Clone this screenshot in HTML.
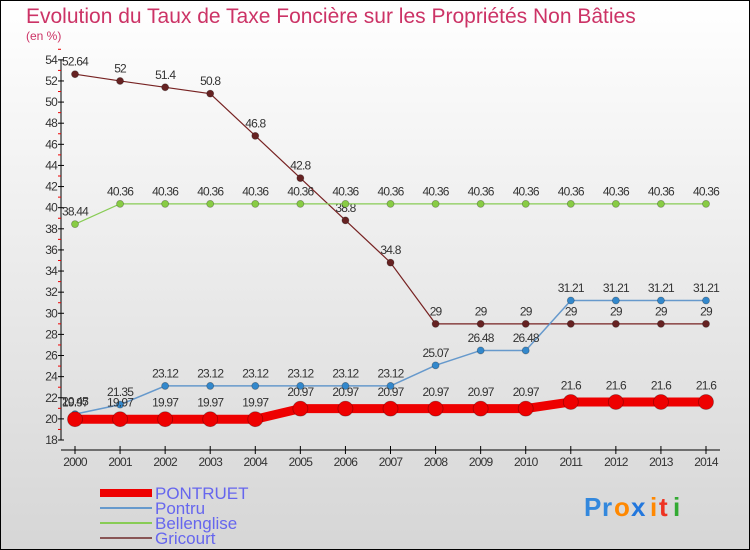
<!DOCTYPE html>
<html><head><meta charset="utf-8"><style>
body{margin:0}
#c{width:750px;height:550px;position:relative;overflow:hidden;font-family:"Liberation Sans",sans-serif}
svg text{font-family:"Liberation Sans",sans-serif}
</style></head><body>
<div id="c">
<svg id="s" width="750" height="550" viewBox="0 0 750 550">
<defs><linearGradient id="bg" x1="0" y1="0" x2="0" y2="1"><stop offset="0" stop-color="#ffffff"/><stop offset="1" stop-color="#d6d6d6"/></linearGradient></defs>
<rect x="0.5" y="0.5" width="749" height="549" fill="url(#bg)" stroke="#000"/>
<text x="26" y="23" font-size="21" fill="#cc3366">Evolution du Taux de Taxe Foncière sur les Propriétés Non Bâties</text>
<text x="26" y="40" font-size="12" fill="#cc3366">(en %)</text>
<g id="axes"></g><g id="series"></g><g id="legend"></g>
<g font-size="26" font-weight="bold">
<text x="584" y="516" fill="#3388dd">P</text><text x="602" y="516" fill="#3388dd">r</text><text x="614" y="516" fill="#ff8800">o</text><text x="631" y="516" fill="#2277dd">x</text><text x="650" y="516" fill="#ff8800">i</text><text x="659" y="516" fill="#ee3322">t</text><text x="673" y="516" fill="#33aa33">i</text>
</g>
</svg></div>
<script>
const years=[2000,2001,2002,2003,2004,2005,2006,2007,2008,2009,2010,2011,2012,2013,2014];
const yTicks=[18,20,22,24,26,28,30,32,34,36,38,40,42,44,46,48,50,52,54];
const pontruet=[19.97,19.97,19.97,19.97,19.97,20.97,20.97,20.97,20.97,20.97,20.97,21.6,21.6,21.6,21.6];
const pontru=[20.45,21.35,23.12,23.12,23.12,23.12,23.12,23.12,25.07,26.48,26.48,31.21,31.21,31.21,31.21];
const bellenglise=[38.44,40.36,40.36,40.36,40.36,40.36,40.36,40.36,40.36,40.36,40.36,40.36,40.36,40.36,40.36];
const gricourt=[52.64,52,51.4,50.8,46.8,42.8,38.8,34.8,29,29,29,29,29,29,29];
const NS='http://www.w3.org/2000/svg';
function X(i){return 75+i*(706-75)/(years.length-1);}
function Y(v){return 440-(v-18)*10.56;}
function mk(t,a,p){const e=document.createElementNS(NS,t);for(const k in a)e.setAttribute(k,a[k]);p.appendChild(e);return e;}
const ax=document.getElementById('axes');
let yl=mk('line',{x1:61,y1:Y(54),x2:61,y2:Y(18),stroke:'#000'},ax);


let xl=mk('line',{x1:61,y1:450,x2:720,y2:450,stroke:'#000'},ax);


yTicks.forEach(v=>{
 mk('line',{x1:58,y1:Y(v),x2:64,y2:Y(v),stroke:'#000'},ax);
 mk('line',{x1:58,y1:Y(v+1),x2:61,y2:Y(v+1),stroke:'#e00'},ax);
 const t=mk('text',{x:57,y:Y(v)+4,'font-size':12,fill:'#333','text-anchor':'end','letter-spacing':'-0.8'},ax);
 t.textContent=v;
 
 
});
years.forEach((y,i)=>{
 mk('line',{x1:X(i),y1:446,x2:X(i),y2:454,stroke:'#000'},ax);
 const t=mk('text',{x:X(i),y:466,'font-size':12,fill:'#333','text-anchor':'middle','letter-spacing':'-0.8'},ax);
 t.textContent=y;
 
 
});
const sg=document.getElementById('series');
function series(name,vals,color,w,r,dot){
 const g=mk('g',{},sg);
 
 
 const pl=mk('polyline',{points:vals.map((v,i)=>X(i)+','+Y(v)).join(' '),fill:'none',stroke:color,'stroke-width':w},g);
 
 
 vals.forEach((v,i)=>{
  const c=mk('circle',{cx:X(i),cy:Y(v),r:r,fill:dot,stroke:'rgba(0,0,0,0.3)','stroke-width':0.8},g);
  
  
  const t=mk('text',{x:X(i),y:Y(v)-(r+5),'font-size':12,fill:'#333','text-anchor':'middle','letter-spacing':'-0.8'},g);
  t.textContent=v;
  
  
 });
}
series('gricourt',gricourt,'#772222',1.2,3.5,'#662222');
series('bellenglise',bellenglise,'#88cc55',1.2,3.5,'#88cc44');
series('pontru',pontru,'#6699cc',1.5,3.5,'#3388cc');
series('pontruet',pontruet,'#ee0000',9,7.5,'#ee0000');
const lg=document.getElementById('legend');
const items=[['PONTRUET','#ee0000',8],['Pontru','#6699cc',2],['Bellenglise','#88cc55',2],['Gricourt','#885555',2]];
items.forEach((it,i)=>{
 const y=493+i*15;
 const l=mk('line',{x1:100,y1:y,x2:152,y2:y,stroke:it[1],'stroke-width':it[2]},lg);
 
 
 const t=mk('text',{x:155,y:y+6,'font-size':17,fill:'#6666ee'},lg);
 t.textContent=it[0];
 
 
});
</script>
</body></html>
